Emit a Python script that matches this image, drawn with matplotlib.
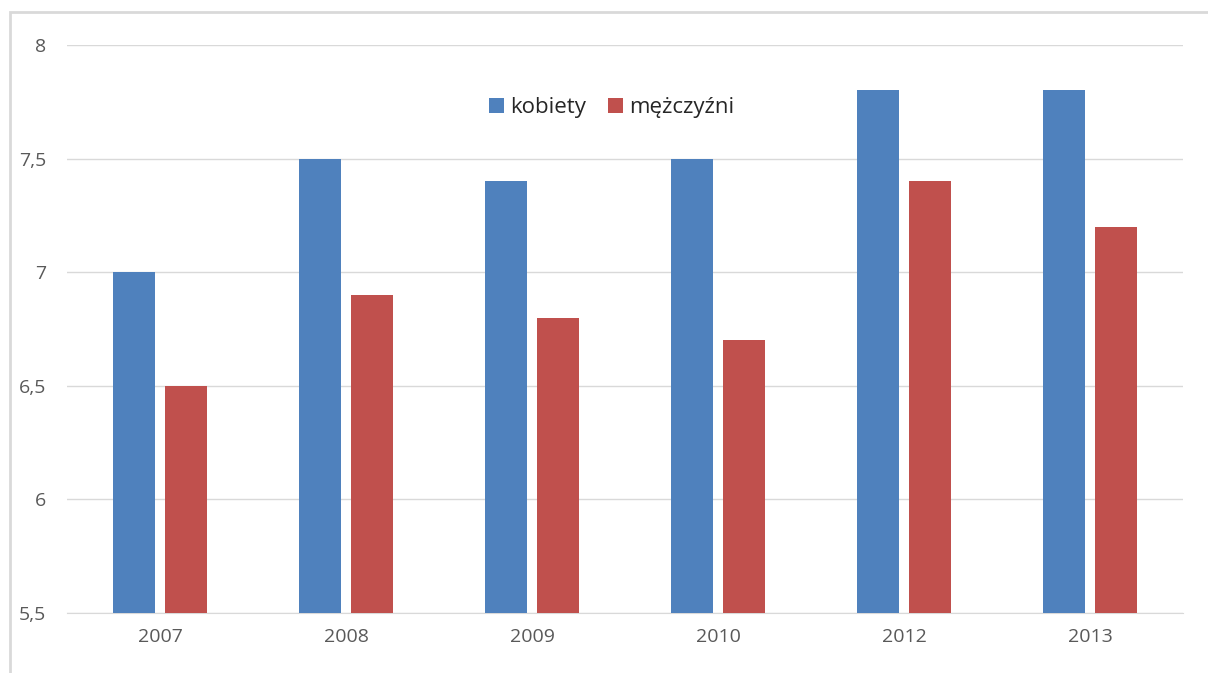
import matplotlib.pyplot as plt
from matplotlib.patches import Rectangle
import numpy as np

years = ['2007', '2008', '2009', '2010', '2012', '2013']
kobiety = [7.0, 7.5, 7.4, 7.5, 7.8, 7.8]
mezczyzni = [6.5, 6.9, 6.8, 6.7, 7.4, 7.2]
yticks = [5.5, 6, 6.5, 7, 7.5, 8]
ylabels = ['5,5', '6', '6,5', '7', '7,5', '8']

plt.rcParams['font.family'] = ['Open Sans', 'DejaVu Sans']

fig = plt.figure(figsize=(12.08, 6.73), dpi=100)
ax = fig.add_axes([67/1208, 1 - 613/673, (1183-67)/1208, (613-45)/673])

x = np.arange(len(years))
w = 0.225
ax.bar(x - 0.142, kobiety, w, color='#4F81BD', label='kobiety', zorder=3)
ax.bar(x + 0.14, mezczyzni, w, color='#C0504D', label='mężczyźni', zorder=3)

ax.set_xlim(-0.5, len(years) - 0.5)
ax.set_ylim(5.5, 8)
ax.set_yticks(yticks)
ax.set_yticklabels(ylabels)
ax.set_xticks(x)
ax.set_xticklabels(years)
ax.tick_params(axis='both', length=0, labelsize=14, colors='#595959')
ax.tick_params(axis='y', pad=15)
ax.tick_params(axis='x', pad=11)
ax.grid(axis='y', color='#D9D9D9', linewidth=1, zorder=0)
for s in ['top', 'right', 'left']:
    ax.spines[s].set_visible(False)
ax.spines['bottom'].set_color('#D9D9D9')

leg = ax.legend(loc='center', bbox_to_anchor=(612/1208, 1 - 108/673), bbox_transform=fig.transFigure,
                ncol=2, frameon=False, fontsize=16, handlelength=0.65, handleheight=0.65,
                handletextpad=0.3, columnspacing=1.0)
for t in leg.get_texts():
    t.set_color('#262626')

fig.patches.append(Rectangle((10/1208, -0.1), 1.2, (673-12)/673 + 0.1, transform=fig.transFigure,
                             fill=False, edgecolor='#D9D9D9', linewidth=2))

fig.savefig('out.png', dpi=100)
